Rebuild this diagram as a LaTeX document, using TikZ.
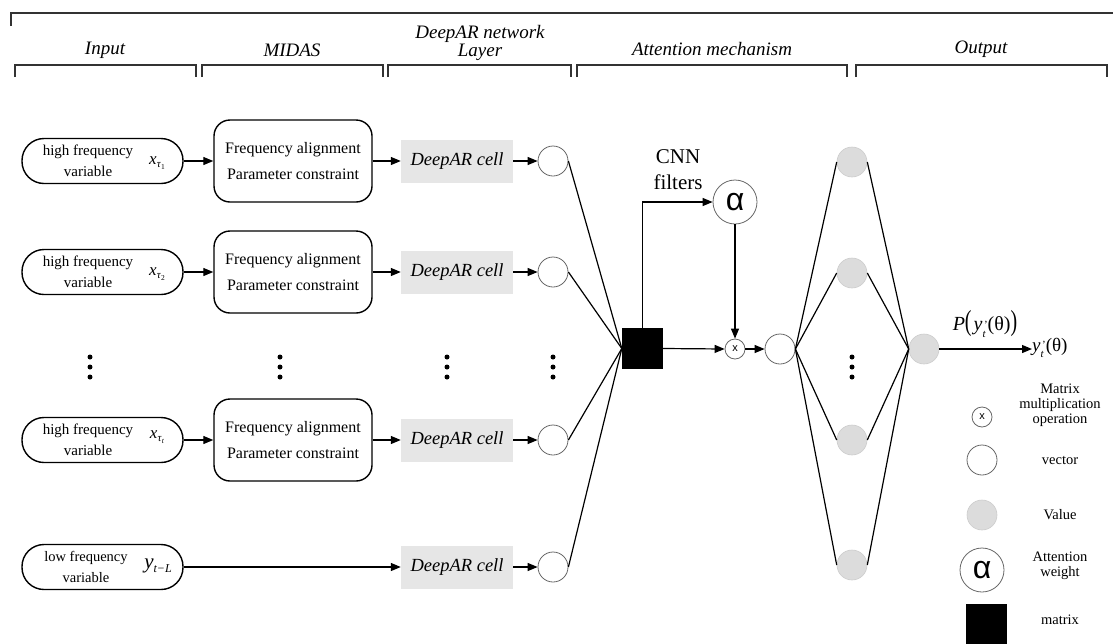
\documentclass[tikz,border=0pt]{standalone}
\usepackage{fontspec}
\setmainfont{Liberation Serif}
\newfontfamily\lsans{Liberation Sans}
\usetikzlibrary{arrows.meta}
\definecolor{cellgray}{HTML}{E6E6E6}
\definecolor{valgray}{HTML}{DCDCDC}
\definecolor{valedge}{HTML}{CCCCCC}
\definecolor{circedge}{HTML}{666666}
\definecolor{hdr}{HTML}{333333}
\newcommand{\fsz}[2]{\fontsize{#1}{#2}\selectfont}
\newcommand{\xtau}[1]{\textit{x}\raisebox{-0.45ex}{\fsz{11}{11}\textit{τ}\raisebox{-0.4ex}{\fsz{7.5}{7.5}#1}}}
\newcommand{\yprime}{\textit{y}\raisebox{-0.75ex}{\fsz{11}{9}\begin{tabular}[b]{@{}l@{}}\kern1.5pt'\\\textit{t}\end{tabular}}}
\begin{document}
\begin{tikzpicture}[x=1pt,y=-1pt,
 ln/.style={line width=1.2pt},
 arr/.style={line width=1.2pt,-{Triangle[length=10pt,width=8pt]}},
 pill/.style={draw,line width=1.4pt,rounded corners=22pt,minimum width=161pt,minimum height=45pt,inner sep=0pt},
 midasbox/.style={draw,line width=1.4pt,rounded corners=16pt,minimum width=158pt,minimum height=82pt,align=center,font=\fsz{16}{26}},
 cell/.style={fill=cellgray,minimum width=112pt,minimum height=43pt,inner sep=0pt,font=\itshape\fsz{18.5}{20}},
 vec/.style={circle,draw=circedge,line width=0.8pt,minimum size=30pt,inner sep=0pt},
 val/.style={circle,fill=valgray,draw=valedge,line width=0.6pt,minimum size=30pt,inner sep=0pt},
 mult/.style={circle,draw=circedge,line width=0.8pt,minimum size=20pt,inner sep=0pt,font=\lsans\fsz{11}{11}},
 att/.style={circle,draw=circedge,line width=0.8pt,minimum size=44pt,inner sep=0pt,font=\lsans\fsz{32}{32}},
 mat/.style={fill=black,minimum size=41pt,inner sep=0pt},
 hdrtxt/.style={font=\itshape\fsz{19}{16},align=center,inner sep=0pt},
 brk/.style={line width=1.4pt,draw=hdr},
 lg/.style={font=\fsz{14.5}{15},align=center,inner sep=0pt},
 intxt/.style={font=\fsz{15}{21},align=center,inner sep=0pt},
 mathtxt/.style={font=\fsz{17}{17},inner sep=0pt},
 vdot/.style={circle,fill=black,minimum size=5pt,inner sep=0pt},
]
\useasboundingbox (0,0) rectangle (1113,643);

% ---------- header brackets ----------
\draw[brk] (11,26) -- (11,13) -- (1113,13);
\draw[brk] (15,77) -- (15,65) -- (196,65) -- (196,77);
\draw[brk] (202,77) -- (202,65) -- (383,65) -- (383,77);
\draw[brk] (388,77) -- (388,65) -- (571,65) -- (571,77);
\draw[brk] (577,77) -- (577,65) -- (847,65) -- (847,77);
\draw[brk] (856,77) -- (856,65) -- (1107,65) -- (1107,77);
\node[hdrtxt] (hInput) at (105,50) {Input};
\node[hdrtxt] (hMidas) at (292,50) {MIDAS};
\node[hdrtxt] (hDeep) at (480,43) {DeepAR network\\Layer};
\node[hdrtxt] (hAtt) at (712,49) {Attention mechanism};
\node[hdrtxt] (hOut) at (981,49) {Output};

% ---------- rows ----------
% row 1
\node[pill] (p1) at (102.5,161) {};
\node[intxt] (p1t) at (88,161) {high frequency\\variable};
\node[mathtxt] (p1m) at (157,163) {\xtau{1}};
\node[midasbox] (m1) at (293,161) {Frequency alignment\\Parameter constraint};
\node[cell] (d1) at (457,161) {DeepAR cell};
\node[vec] (c1) at (553,161) {};
% row 2
\node[pill] (p2) at (102.5,272) {};
\node[intxt] (p2t) at (88,272) {high frequency\\variable};
\node[mathtxt] (p2m) at (157,274) {\xtau{2}};
\node[midasbox] (m2) at (293,272) {Frequency alignment\\Parameter constraint};
\node[cell] (d2) at (457,272) {DeepAR cell};
\node[vec] (c2) at (553,272) {};
% row 3
\node[pill] (p3) at (102.5,440) {};
\node[intxt] (p3t) at (88,440) {high frequency\\variable};
\node[mathtxt] (p3m) at (157,437) {\xtau{\textit{t}}};
\node[midasbox] (m3) at (293,440) {Frequency alignment\\Parameter constraint};
\node[cell] (d3) at (457,440) {DeepAR cell};
\node[vec] (c3) at (553,440) {};
% row 4
\node[pill] (p4) at (102.5,567) {};
\node[intxt,font=\fsz{14.5}{21}] (p4t) at (86,567) {low frequency\\variable};
\node[inner sep=0pt,font=\fsz{21}{21}] (p4m) at (158,566) {\textit{y}\raisebox{-0.45ex}{\fsz{12}{12}\textit{t}\kern0.5pt−\kern0.5pt\textit{L}}};
\node[cell] (d4) at (457,567) {DeepAR cell};
\node[vec] (c4) at (553,567) {};

\foreach \i in {1,2,3}{
  \draw[arr] (p\i.east) -- (m\i.west);
  \draw[arr] (m\i.east) -- (d\i.west);
}
\draw[arr] (p4.east) -- (d4.west);
\foreach \i in {1,2,3,4}{
  \draw[arr] (d\i.east) -- (c\i.west);
}

% dots
\foreach \x/\n in {90/a,280/b,447/c,553/d,852/e}{
  \node[vdot] (dot\n1) at (\x,357) {};
  \node[vdot] (dot\n2) at (\x,367) {};
  \node[vdot] (dot\n3) at (\x,377) {};
}

% ---------- attention ----------
\node[mat] (sq) at (642.5,348.5) {};
\foreach \i in {1,2,3,4}{
  \draw[ln] (c\i.east) -- (sq.west);
}
\node[att] (alpha) at (735,202) {α};
\node[font=\fsz{21}{26},align=center,inner sep=0pt] (cnn) at (678,170) {CNN\\filters};
\draw[arr] (sq.north) |- (alpha.west);
\node[mult] (mx) at (735,349) {x};
\draw[arr] (alpha.south) -- (mx.north);
\draw[arr] (sq.east) -- (mx.west);
\node[vec] (v) at (780,349) {};
\draw[arr] (mx.east) -- (v.west);

% ---------- output ----------
\node[val] (g1) at (852,162) {};
\node[val] (g2) at (852,273) {};
\node[val] (g3) at (852,440) {};
\node[val] (g4) at (852,565) {};
\node[val] (fin) at (924,349) {};
\foreach \i in {1,2,3,4}{
  \draw[ln] (v.east) -- (g\i.west);
  \draw[ln] (g\i.east) -- (fin.west);
}
\coordinate (outp) at (1032,349);
\draw[arr] (fin.east) -- (outp);
\node[anchor=west,inner sep=0pt,font=\fsz{19}{19}] (ylab) at (outp) {\yprime(θ)};
\node[inner sep=0pt,font=\fsz{20}{20}] (plab) at (985,325) {\textit{P}\scalebox{1}[1.45]{(}\kern2pt\yprime(θ)\scalebox{1}[1.45]{)}};

% ---------- legend ----------
\node[mult] (lmx) at (982,417) {x};
\node[lg] (lmxt) at (1060,405) {Matrix\\multiplication\\operation};
\node[vec] (lvec) at (982,460) {};
\node[lg] (lvect) at (1060,460) {vector};
\node[val] (lval) at (982,515) {};
\node[lg] (lvalt) at (1060,515) {Value};
\node[att] (latt) at (982,570) {α};
\node[lg] (lattt) at (1060,566) {Attention\\weight};
\node[mat] (lmat) at (986.5,624.5) {};
\node[lg] (lmatt) at (1060,620) {matrix};
\end{tikzpicture}
\end{document}
